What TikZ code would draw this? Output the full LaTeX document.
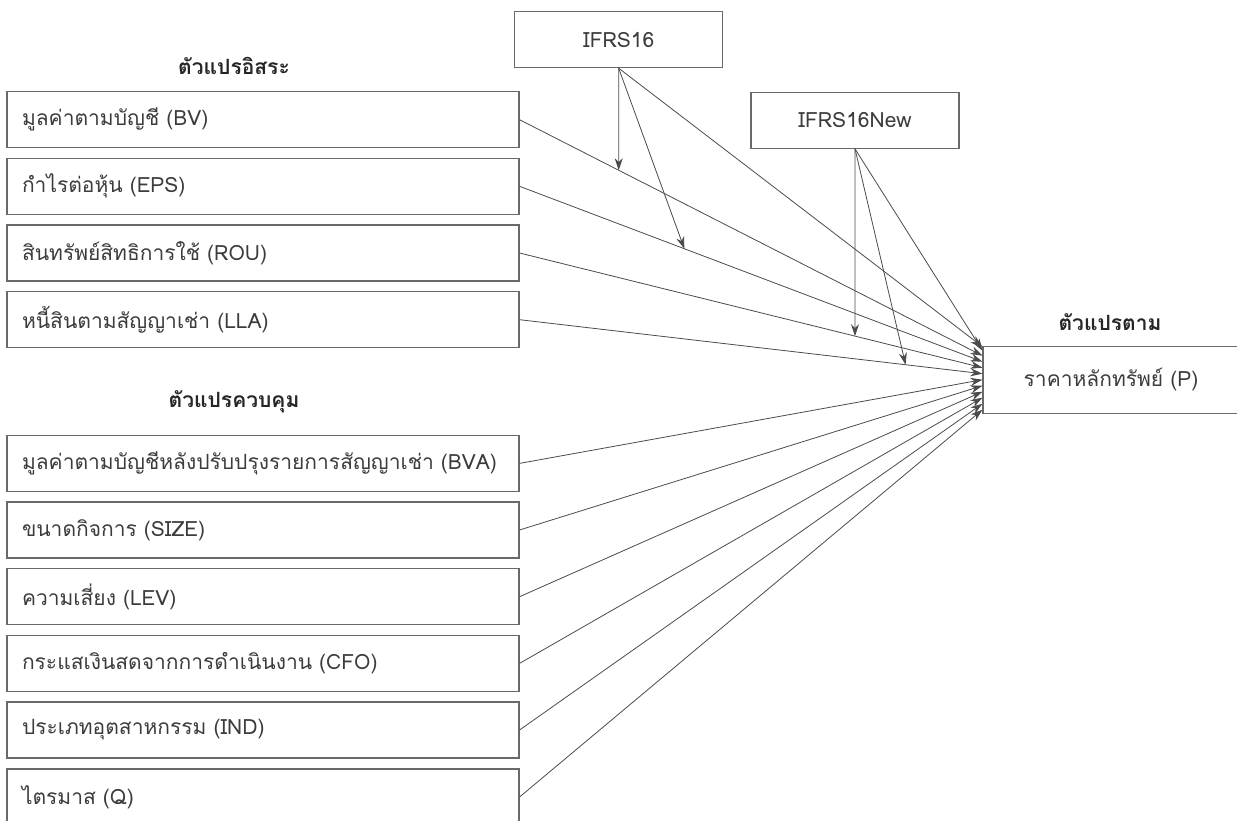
\documentclass[tikz,border=0pt]{standalone}
\usepackage{fontspec}
\setmainfont[Script=Thai]{Loma}
\usetikzlibrary{arrows.meta, calc}
\definecolor{boxgray}  {RGB}{105,105,105}
\definecolor{linegray} {RGB}{ 75, 75, 75}
\definecolor{txtgray}  {RGB}{ 60, 60, 60}

\tikzset{
	varbox/.style={draw=boxgray, line width=1.1pt, text width=482pt, inner xsep=15pt,
		minimum height=56pt, align=left, text=txtgray, font=\fontsize{21}{25}\selectfont},
	modbox/.style={draw=boxgray, line width=1.1pt, minimum width=208pt, minimum height=56pt,
		text=txtgray, font=\fontsize{21}{25}\selectfont},
	headtext/.style={text=black!85, font=\bfseries\fontsize{21}{25}\selectfont},
	link/.style={draw=linegray, line width=0.8pt, -{Stealth[length=12pt,width=8pt]}}
}

\begin{document}
\begin{tikzpicture}[x=1pt,y=-1pt]
	\useasboundingbox (0,0) rectangle (1237,821);
	% headings
	\node[headtext] (hind) at (234,66) {ตัวแปรอิสระ};
	\node[headtext] (hctl) at (234,402) {ตัวแปรควบคุม};
	\node[headtext] (hdep) at (1110,322) {ตัวแปรตาม};
	% independent variables
	\node[varbox] (bv)  at (263,119.7) {มูลค่าตามบัญชี (BV)};
	\node[varbox] (eps) at (263,186.3) {กำไรต่อหุ้น (EPS)};
	\node[varbox] (rou) at (263,253)   {สินทรัพย์สิทธิการใช้ (ROU)};
	\node[varbox] (lla) at (263,319.7) {หนี้สินตามสัญญาเช่า (LLA)};
	% control variables
	\node[varbox] (bva)  at (263,463.4) {\mbox{มูลค่าตามบัญชีหลังปรับปรุงรายการสัญญาเช่า (BVA)}};
	\node[varbox] (size) at (263,530)   {ขนาดกิจการ (SIZE)};
	\node[varbox] (lev)  at (263,596.7) {ความเสี่ยง (LEV)};
	\node[varbox] (cfo)  at (263,663.4) {กระแสเงินสดจากการดำเนินงาน (CFO)};
	\node[varbox] (ind)  at (263,730)   {ประเภทอุตสาหกรรม (IND)};
	\node[varbox] (q)    at (263,797)   {ไตรมาส (Q)};
	% moderators and dependent variable
	\node[modbox] (ifrs)    at (618.7,39.7) {IFRS16};
	\node[modbox] (ifrsnew) at (855,120.3)  {IFRS16New};
	\node[modbox, minimum width=256pt, minimum height=67pt] (price) at (1111,379.7) {ราคาหลักทรัพย์ (P)};

	% end points on the left side of the price box
	\coordinate (e1)  at ($(price.west)+(0,-33)$);
	\coordinate (e2)  at ($(price.west)+(0,-29)$);
	\coordinate (e3)  at ($(price.west)+(0,-24)$);
	\coordinate (e4)  at ($(price.west)+(0,-18)$);
	\coordinate (e5)  at ($(price.west)+(0,-12)$);
	\coordinate (e6)  at ($(price.west)+(0,-6)$);
	\coordinate (e7)  at ($(price.west)+(0,0)$);
	\coordinate (e8)  at ($(price.west)+(0,6)$);
	\coordinate (e9)  at ($(price.west)+(0,12)$);
	\coordinate (e10) at ($(price.west)+(0,18)$);
	\coordinate (e11) at ($(price.west)+(0,24)$);
	\coordinate (e12) at ($(price.west)+(0,30)$);

	\draw[link] (ifrs.south) -- (e1);
	\draw[link] (ifrsnew.south) -- (e2);
	\draw[link] (bv.east) -- (e3);
	\draw[link] (eps.east) -- (e4);
	\draw[link] (rou.east) -- (e5);
	\draw[link] (lla.east) -- (e6);
	\draw[link] (bva.east) -- (e7);
	\draw[link] (size.east) -- (e8);
	\draw[link] (lev.east) -- (e9);
	\draw[link] (cfo.east) -- (e10);
	\draw[link] (ind.east) -- (e11);
	\draw[link] (q.east) -- (e12);

	% moderating arrows onto the paths
	\coordinate (m1) at (intersection of bv.east--e3 and ifrs.south--ifrs.north);
	\coordinate (m2) at ($(eps.east)!0.356!(e4)$);
	\coordinate (m3) at (intersection of rou.east--e5 and ifrsnew.south--ifrsnew.north);
	\coordinate (m4) at ($(lla.east)!0.834!(e6)$);
	\draw[link] (ifrs.south) -- (m1);
	\draw[link] (ifrs.south) -- (m2);
	\draw[link] (ifrsnew.south) -- (m3);
	\draw[link] (ifrsnew.south) -- (m4);
\end{tikzpicture}
\end{document}
